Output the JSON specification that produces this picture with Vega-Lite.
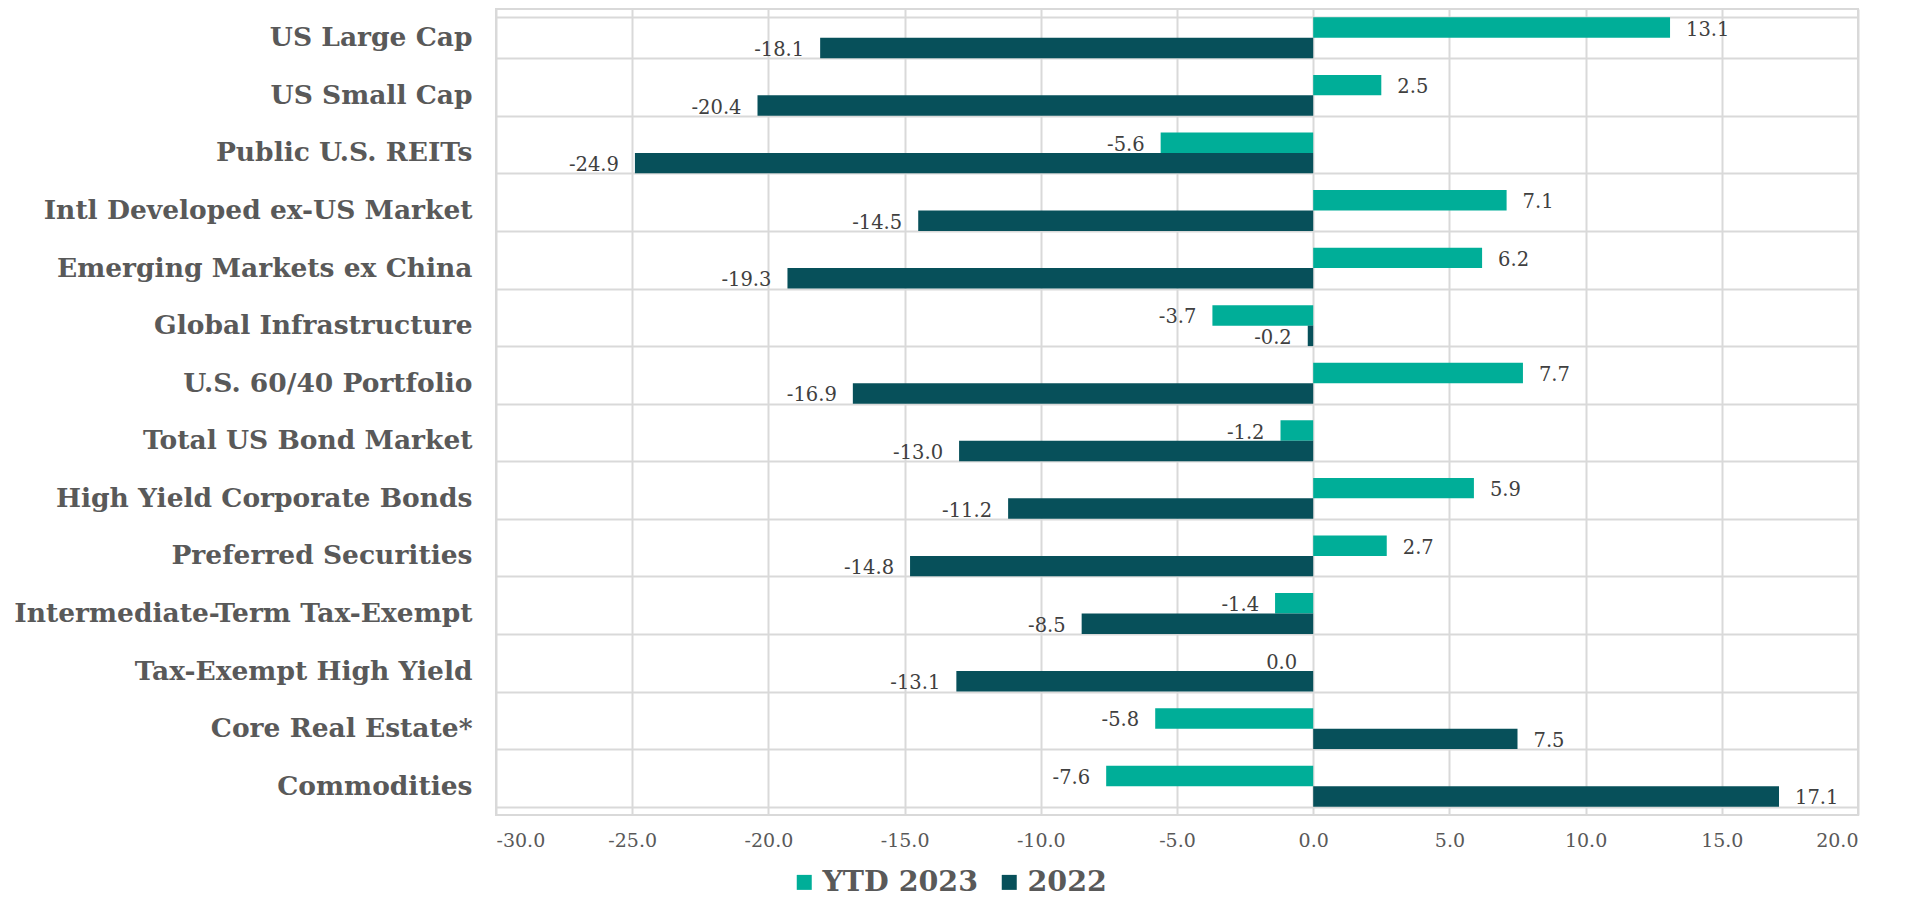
{
  "$schema": "https://vega.github.io/schema/vega-lite/v6.json",
  "autosize": {"type": "none"},
  "width": 1362,
  "height": 806,
  "padding": {"left": 496, "top": 9, "right": 47, "bottom": 82},
  "background": "white",
  "config": {
    "font": "DejaVu Serif",
    "view": {"stroke": "#d9d9d9", "strokeWidth": 2},
    "locale": {"number": {"decimal": ".", "thousands": ",", "grouping": [3], "currency": ["$", ""], "minus": "-"}}
  },
  "data": {
    "values": [
      {"category": "US Large Cap", "series": "YTD 2023", "value": 13.1},
      {"category": "US Large Cap", "series": "2022", "value": -18.1},
      {"category": "US Small Cap", "series": "YTD 2023", "value": 2.5},
      {"category": "US Small Cap", "series": "2022", "value": -20.4},
      {"category": "Public U.S. REITs", "series": "YTD 2023", "value": -5.6},
      {"category": "Public U.S. REITs", "series": "2022", "value": -24.9},
      {"category": "Intl Developed ex-US Market", "series": "YTD 2023", "value": 7.1},
      {"category": "Intl Developed ex-US Market", "series": "2022", "value": -14.5},
      {"category": "Emerging Markets ex China", "series": "YTD 2023", "value": 6.2},
      {"category": "Emerging Markets ex China", "series": "2022", "value": -19.3},
      {"category": "Global Infrastructure", "series": "YTD 2023", "value": -3.7},
      {"category": "Global Infrastructure", "series": "2022", "value": -0.2},
      {"category": "U.S. 60/40 Portfolio", "series": "YTD 2023", "value": 7.7},
      {"category": "U.S. 60/40 Portfolio", "series": "2022", "value": -16.9},
      {"category": "Total US Bond Market", "series": "YTD 2023", "value": -1.2},
      {"category": "Total US Bond Market", "series": "2022", "value": -13.0},
      {"category": "High Yield Corporate Bonds", "series": "YTD 2023", "value": 5.9},
      {"category": "High Yield Corporate Bonds", "series": "2022", "value": -11.2},
      {"category": "Preferred Securities", "series": "YTD 2023", "value": 2.7},
      {"category": "Preferred Securities", "series": "2022", "value": -14.8},
      {"category": "Intermediate-Term Tax-Exempt", "series": "YTD 2023", "value": -1.4},
      {"category": "Intermediate-Term Tax-Exempt", "series": "2022", "value": -8.5},
      {"category": "Tax-Exempt High Yield", "series": "YTD 2023", "value": 0.0},
      {"category": "Tax-Exempt High Yield", "series": "2022", "value": -13.1},
      {"category": "Core Real Estate*", "series": "YTD 2023", "value": -5.8},
      {"category": "Core Real Estate*", "series": "2022", "value": 7.5},
      {"category": "Commodities", "series": "YTD 2023", "value": -7.6},
      {"category": "Commodities", "series": "2022", "value": 17.1}
    ]
  },
  "encoding": {
    "y": {
      "field": "category",
      "type": "nominal",
      "sort": null,
      "title": null,
      "scale": {"paddingInner": 0.29, "paddingOuter": 0.145},
      "axis": {
        "domain": false,
        "ticks": false,
        "tickBand": "extent",
        "grid": true,
        "gridColor": "#d9d9d9",
        "gridWidth": 2,
        "labelFont": "DejaVu Serif",
        "labelFontSize": 26.5,
        "labelFontWeight": "bold",
        "labelColor": "#595959",
        "labelPadding": 24,
        "labelLimit": 600
      }
    },
    "yOffset": {
      "field": "series",
      "type": "nominal",
      "sort": ["YTD 2023", "2022"],
      "scale": {"paddingInner": 0, "paddingOuter": 0}
    },
    "x": {
      "field": "value",
      "type": "quantitative",
      "title": null,
      "scale": {"domain": [-30, 20], "nice": false, "zero": false},
      "axis": {
        "values": [-30, -25, -20, -15, -10, -5, 0, 5, 10, 15, 20],
        "format": ".1f",
        "domain": false,
        "ticks": false,
        "grid": true,
        "gridColor": "#d9d9d9",
        "gridWidth": 2,
        "labelFont": "DejaVu Serif",
        "labelFontSize": 19,
        "labelColor": "#595959",
        "labelPadding": 16
      }
    }
  },
  "layer": [
    {
      "mark": {"type": "bar"},
      "encoding": {
        "color": {
          "field": "series",
          "type": "nominal",
          "sort": ["YTD 2023", "2022"],
          "title": null,
          "scale": {"domain": ["YTD 2023", "2022"], "range": ["#00ae98", "#07505a"]},
          "legend": {
            "orient": "none",
            "direction": "horizontal",
            "legendX": 294,
            "legendY": 859,
            "symbolType": "square",
            "symbolSize": 225,
            "symbolStrokeWidth": 0,
            "labelFont": "DejaVu Serif",
            "labelFontSize": 28.5,
            "labelFontWeight": "bold",
            "labelColor": "#595959",
            "labelOffset": 4,
            "labelLimit": 500,
            "columnPadding": 16
          }
        }
      }
    },
    {
      "transform": [{"filter": "datum.value > 0"}],
      "mark": {"type": "text", "align": "left", "baseline": "middle", "dx": 16, "dy": 2, "font": "DejaVu Serif", "fontSize": 19.5, "color": "#404040"},
      "encoding": {"text": {"field": "value", "type": "quantitative", "format": ".1f"}}
    },
    {
      "transform": [{"filter": "datum.value <= 0"}],
      "mark": {"type": "text", "align": "right", "baseline": "middle", "dx": -16, "dy": 2, "font": "DejaVu Serif", "fontSize": 19.5, "color": "#404040"},
      "encoding": {"text": {"field": "value", "type": "quantitative", "format": ".1f"}}
    }
  ]
}
